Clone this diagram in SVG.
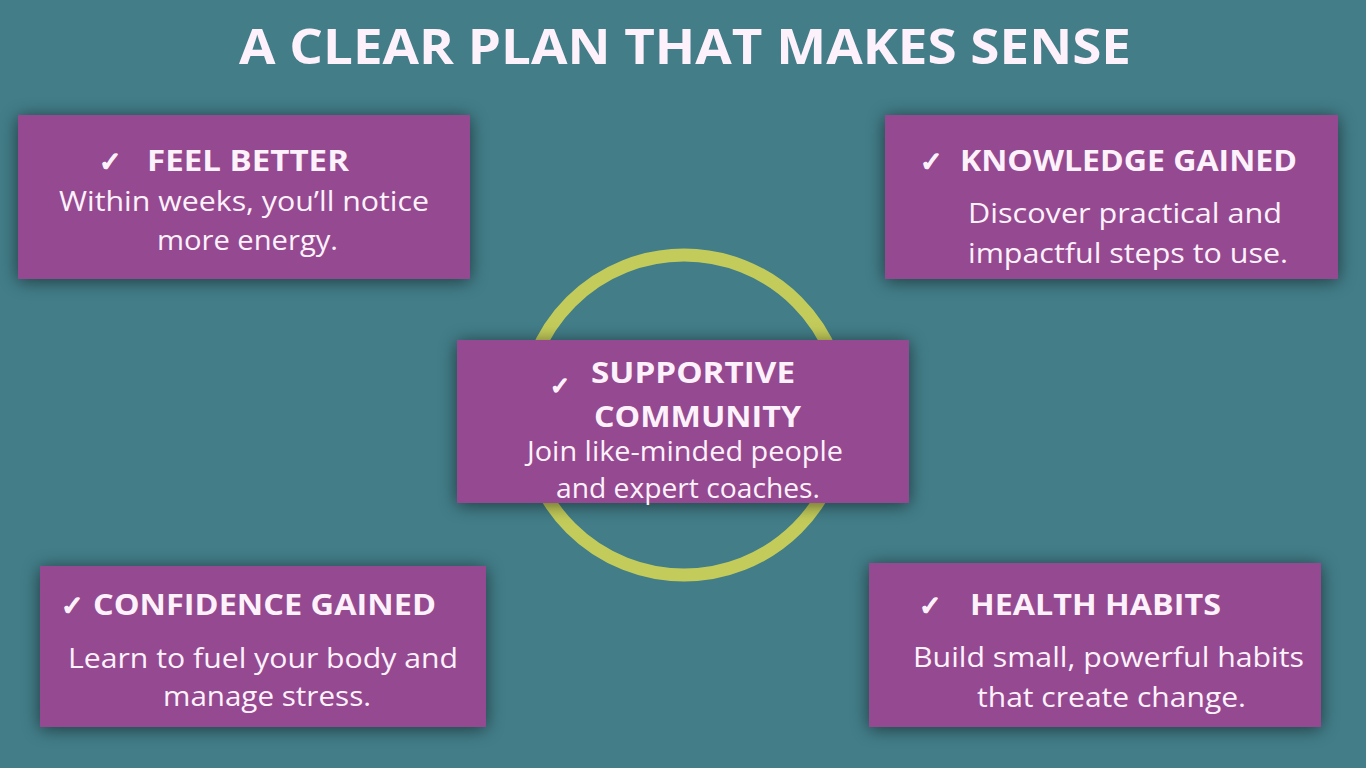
<svg xmlns="http://www.w3.org/2000/svg" width="1366" height="768" viewBox="0 0 1366 768">
<defs>
<style>
.bg{fill:#427d88}
.box{fill:#954890}
.h{font-family:"Open Sans","Liberation Sans",sans-serif;font-weight:700;fill:#fdf2fb}
.b{font-family:"Open Sans","Liberation Sans",sans-serif;font-weight:400;fill:#fdf2fb}
.ck{font-family:"DejaVu Sans",sans-serif;font-weight:700;font-size:27px;fill:#fdf2fb;stroke:#fdf2fb;stroke-width:1.6px;stroke-linejoin:round}
</style>
<filter id="sh" x="-10%" y="-30%" width="120%" height="160%">
<feGaussianBlur in="SourceAlpha" stdDeviation="9"/>
<feOffset dx="0" dy="2"/>
<feComponentTransfer><feFuncA type="linear" slope="0.55"/></feComponentTransfer>
<feMerge><feMergeNode/><feMergeNode in="SourceGraphic"/></feMerge>
</filter>
</defs>
<rect class="bg" x="0" y="0" width="1366" height="768"/>
<text class="h" x="685" y="64" font-size="49" text-anchor="middle" textLength="892" lengthAdjust="spacingAndGlyphs">A CLEAR PLAN THAT MAKES SENSE</text>
<g id="connectors">
<circle cx="684" cy="415" r="160" fill="none" stroke="#c3cc5a" stroke-width="13"/>
</g>
<g id="feel-better">
<rect class="box" x="18" y="115" width="452" height="164" filter="url(#sh)"/>
<text class="ck" x="99" y="171">✓</text>
<text class="h" x="147" y="171" font-size="28" textLength="202" lengthAdjust="spacingAndGlyphs">FEEL BETTER</text>
<text class="b" x="59" y="211" font-size="27" textLength="370" lengthAdjust="spacingAndGlyphs">Within weeks, you’ll notice</text>
<text class="b" x="157" y="250" font-size="27" textLength="181" lengthAdjust="spacingAndGlyphs">more energy.</text>
</g>
<g id="knowledge-gained">
<rect class="box" x="885" y="115" width="453" height="164" filter="url(#sh)"/>
<text class="ck" x="920" y="171">✓</text>
<text class="h" x="960" y="171" font-size="28" textLength="337" lengthAdjust="spacingAndGlyphs">KNOWLEDGE GAINED</text>
<text class="b" x="968" y="223" font-size="27" textLength="314" lengthAdjust="spacingAndGlyphs">Discover practical and</text>
<text class="b" x="968" y="263" font-size="27" textLength="320" lengthAdjust="spacingAndGlyphs">impactful steps to use.</text>
</g>
<g id="supportive-community">
<rect class="box" x="457" y="340" width="452" height="163" filter="url(#sh)"/>
<text class="ck" x="550" y="394" style="font-size:24px">✓</text>
<text class="h" x="591" y="383" font-size="28" textLength="204" lengthAdjust="spacingAndGlyphs">SUPPORTIVE</text>
<text class="h" x="594" y="427" font-size="28" textLength="207" lengthAdjust="spacingAndGlyphs">COMMUNITY</text>
<text class="b" x="527" y="461" font-size="27" textLength="316" lengthAdjust="spacingAndGlyphs">Join like-minded people</text>
<text class="b" x="556" y="498" font-size="27" textLength="264" lengthAdjust="spacingAndGlyphs">and expert coaches.</text>
</g>
<g id="confidence-gained">
<rect class="box" x="40" y="566" width="446" height="161" filter="url(#sh)"/>
<text class="ck" x="61" y="615">✓</text>
<text class="h" x="93" y="615" font-size="28" textLength="343" lengthAdjust="spacingAndGlyphs">CONFIDENCE GAINED</text>
<text class="b" x="68" y="668" font-size="27" textLength="390" lengthAdjust="spacingAndGlyphs">Learn to fuel your body and</text>
<text class="b" x="163" y="706" font-size="27" textLength="208" lengthAdjust="spacingAndGlyphs">manage stress.</text>
</g>
<g id="health-habits">
<rect class="box" x="869" y="563" width="452" height="164" filter="url(#sh)"/>
<text class="ck" x="919" y="615">✓</text>
<text class="h" x="970" y="615" font-size="28" textLength="251" lengthAdjust="spacingAndGlyphs">HEALTH HABITS</text>
<text class="b" x="913" y="667" font-size="27" textLength="391" lengthAdjust="spacingAndGlyphs">Build small, powerful habits</text>
<text class="b" x="977" y="707" font-size="27" textLength="269" lengthAdjust="spacingAndGlyphs">that create change.</text>
</g>
</svg>
